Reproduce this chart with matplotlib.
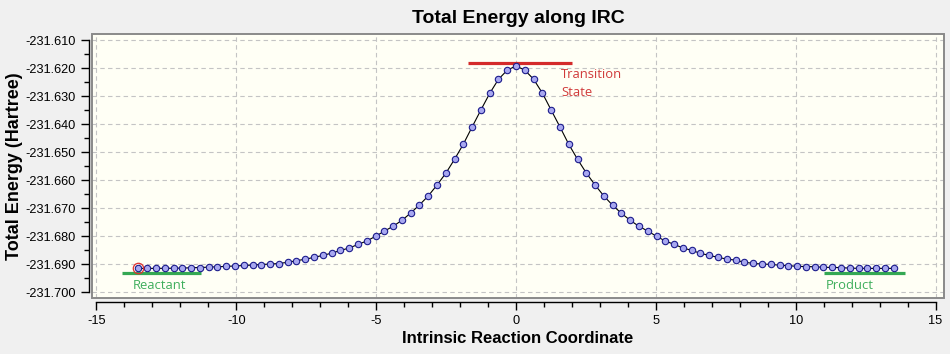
import matplotlib
matplotlib.use('Agg')
import matplotlib.pyplot as plt
from matplotlib.patches import Rectangle
from matplotlib.ticker import MultipleLocator, FormatStrFormatter

plt.rcParams['font.family'] = ['Liberation Sans', 'DejaVu Sans']
plt.rcParams['axes.unicode_minus'] = False

# IRC points (reaction coordinate, total energy in Hartree)
irc_x = [-13.502, -13.188, -12.874, -12.560, -12.246, -11.932, -11.618, -11.304,
         -10.990, -10.676, -10.362, -10.048, -9.734, -9.420, -9.106, -8.792,
         -8.478, -8.164, -7.850, -7.536, -7.222, -6.908, -6.594, -6.280,
         -5.966, -5.652, -5.338, -5.024, -4.710, -4.396, -4.082, -3.768,
         -3.454, -3.140, -2.826, -2.512, -2.198, -1.884, -1.570, -1.256,
         -0.942, -0.628, -0.314, 0.000, 0.314, 0.628, 0.942, 1.256,
         1.570, 1.884, 2.198, 2.512, 2.826, 3.140, 3.454, 3.768,
         4.082, 4.396, 4.710, 5.024, 5.338, 5.652, 5.966, 6.280,
         6.594, 6.908, 7.222, 7.536, 7.850, 8.164, 8.478, 8.792,
         9.106, 9.420, 9.734, 10.048, 10.362, 10.676, 10.990, 11.304,
         11.618, 11.932, 12.246, 12.560, 12.874, 13.188, 13.502]
irc_energy = [-231.69143, -231.69143, -231.69143, -231.69140, -231.69138, -231.69132,
              -231.69121, -231.69112, -231.69100, -231.69086, -231.69071, -231.69058,
              -231.69040, -231.69025, -231.69005, -231.68988, -231.68970, -231.68925,
              -231.68870, -231.68815, -231.68750, -231.68679, -231.68600, -231.68505,
              -231.68415, -231.68290, -231.68165, -231.68000, -231.67815, -231.67640,
              -231.67430, -231.67170, -231.66880, -231.66560, -231.66170, -231.65750,
              -231.65250, -231.64710, -231.64095, -231.63490, -231.62900, -231.62395,
              -231.62070, -231.61918,
              -231.62071, -231.62393, -231.62890, -231.63495, -231.64096, -231.64714,
              -231.65250, -231.65740, -231.66168, -231.66561, -231.66893, -231.67179,
              -231.67429, -231.67643, -231.67811, -231.68000, -231.68168, -231.68286,
              -231.68415, -231.68500, -231.68607, -231.68679, -231.68750, -231.68811,
              -231.68850, -231.68925, -231.68964, -231.68989, -231.69000, -231.69030,
              -231.69045, -231.69071, -231.69078, -231.69085, -231.69105, -231.69110,
              -231.69115, -231.69135, -231.69140, -231.69143, -231.69143, -231.69143,
              -231.69143]

# marker lines for the stationary points: (x start, x end, energy)
ts_bar = [-1.72, 2.00, -231.6182]
reactant_bar = [-14.09, -11.26, -231.6932]
product_bar = [11.01, 13.90, -231.6932]

fig = plt.figure(figsize=(9.5, 3.54), dpi=100, facecolor='#f0f0f0')
ax = fig.add_axes([92 / 950, 56 / 354, 852 / 950, 264 / 354])
ax.set_facecolor('#fffff5')

ax.plot(irc_x, irc_energy, color='black', lw=0.8, marker='o', ms=4.6,
        mfc='#a8a8f0', mec='#1c1c8c', mew=0.8, zorder=3)
# highlighted current point
ax.plot(irc_x[0], irc_energy[0], 'o', ms=7.5, mfc='none', mec='#e03030', mew=0.9, zorder=4)

ax.plot(ts_bar[:2], [ts_bar[2]] * 2, color='#d42a2a', lw=2.3, zorder=2, solid_capstyle='butt')
ax.plot(reactant_bar[:2], [reactant_bar[2]] * 2, color='#34a853', lw=2.3, zorder=2, solid_capstyle='butt')
ax.plot(product_bar[:2], [product_bar[2]] * 2, color='#34a853', lw=2.3, zorder=2, solid_capstyle='butt')

afont = ['Open Sans', 'DejaVu Sans']
ax.text(1.61, -231.62357, 'Transition', color='#d03a3a', fontsize=9.4, family=afont, va='baseline')
ax.text(1.61, -231.62979, 'State', color='#d03a3a', fontsize=9.4, family=afont, va='baseline')
ax.text(-13.69, -231.69874, 'Reactant', color='#3fae5c', fontsize=9.4, family=afont, va='baseline')
ax.text(11.08, -231.6988, 'Product', color='#3fae5c', fontsize=9.4, family=afont, va='baseline')

ax.set_xlim(-15.16, 15.30)
ax.set_ylim(-231.7020, -231.6078)

ax.xaxis.set_major_locator(MultipleLocator(5))
ax.xaxis.set_minor_locator(MultipleLocator(1))
ax.yaxis.set_major_locator(MultipleLocator(0.01))
ax.yaxis.set_minor_locator(MultipleLocator(0.005))
ax.yaxis.set_major_formatter(FormatStrFormatter('%.3f'))

ax.grid(True, which='major', color='#c4c4c4', ls=(0, (4, 3)), lw=0.8, zorder=1)

# axis lines sit just outside the grey frame
for s in ['top', 'right']:
    ax.spines[s].set_visible(False)
ax.spines['left'].set_position(('outward', 2.2))
ax.spines['bottom'].set_position(('outward', 2.6))
ax.spines['left'].set_bounds(-231.700, -231.610)
ax.spines['bottom'].set_bounds(-15, 15)
ax.spines['left'].set_linewidth(1.0)
ax.spines['bottom'].set_linewidth(1.0)
ax.add_patch(Rectangle((0, 0), 1, 1, transform=ax.transAxes, fill=False,
                       edgecolor='#8a8a8a', lw=1.4, clip_on=False, zorder=5))

ax.tick_params(axis='both', which='major', length=5.8, width=1.0, labelsize=9.2, direction='out')
ax.tick_params(axis='both', which='minor', length=3.6, width=1.0, direction='out')
ax.tick_params(axis='y', pad=3.5)
ax.tick_params(axis='x', pad=4.0)

ax.set_xlabel('Intrinsic Reaction Coordinate', fontsize=12, fontweight='bold', labelpad=3)
ax.set_ylabel('Total Energy (Hartree)', fontsize=13, fontweight='bold', labelpad=2)
ax.set_title('Total Energy along IRC', fontsize=14, fontweight='bold', pad=8)

plt.savefig('out.png', dpi=100, facecolor=fig.get_facecolor())
plt.close()
